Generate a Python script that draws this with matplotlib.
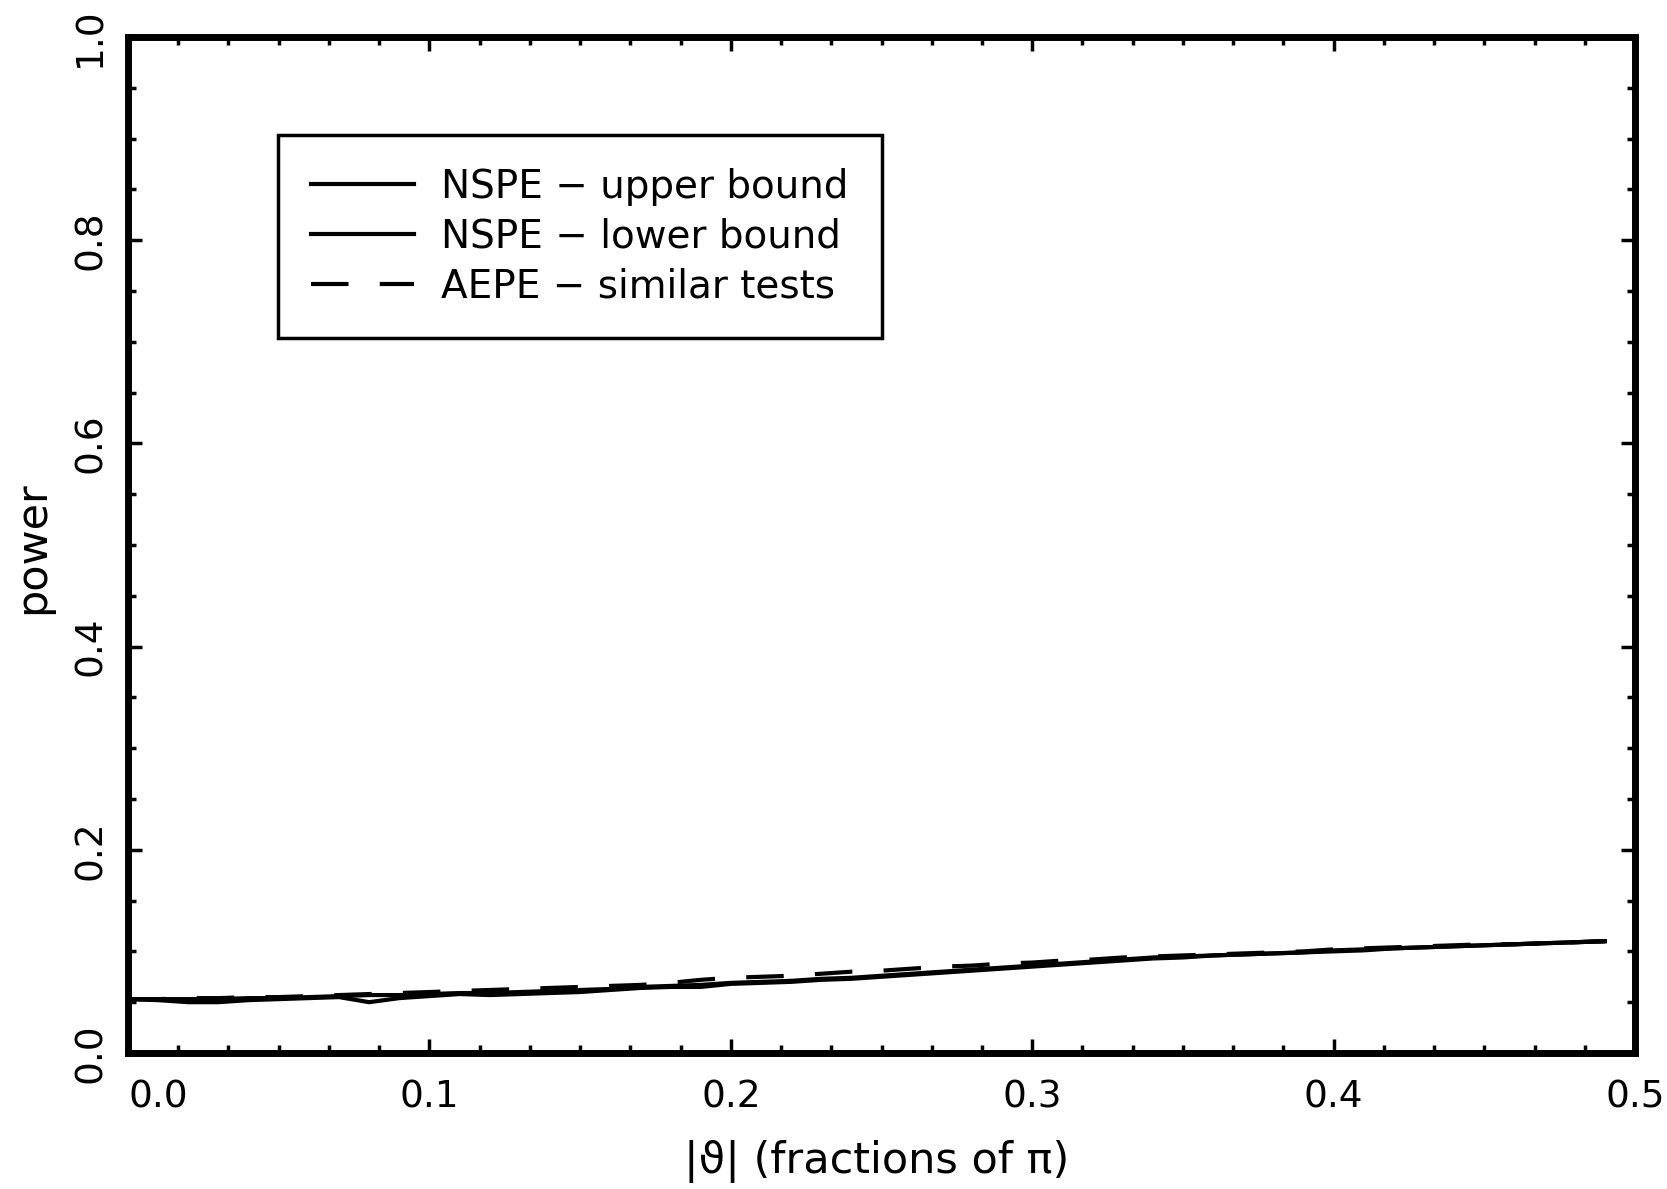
import numpy as np
import matplotlib
matplotlib.use('Agg')
import matplotlib.pyplot as plt
from matplotlib.ticker import MultipleLocator

# |theta| in fractions of pi
theta = [0.00, 0.01, 0.02, 0.03, 0.04, 0.05, 0.06, 0.07, 0.08, 0.09,
         0.10, 0.11, 0.12, 0.13, 0.14, 0.15, 0.16, 0.17, 0.18, 0.19,
         0.20, 0.21, 0.22, 0.23, 0.24, 0.25, 0.26, 0.27, 0.28, 0.29,
         0.30, 0.31, 0.32, 0.33, 0.34, 0.35, 0.36, 0.37, 0.38, 0.39,
         0.40, 0.41, 0.42, 0.43, 0.44, 0.45, 0.46, 0.47, 0.48, 0.49]

nspe_upper = [0.053, 0.053, 0.053, 0.053, 0.054, 0.054, 0.055, 0.056, 0.057, 0.057,
              0.058, 0.059, 0.059, 0.060, 0.061, 0.062, 0.063, 0.065, 0.066, 0.067,
              0.069, 0.070, 0.071, 0.073, 0.074, 0.076, 0.078, 0.080, 0.082, 0.084,
              0.086, 0.088, 0.090, 0.092, 0.094, 0.095, 0.096, 0.097, 0.098, 0.099,
              0.101, 0.102, 0.103, 0.104, 0.105, 0.106, 0.107, 0.108, 0.109, 0.110]

nspe_lower = [0.053, 0.052, 0.050, 0.050, 0.052, 0.053, 0.054, 0.055, 0.050, 0.054,
              0.056, 0.058, 0.057, 0.058, 0.059, 0.060, 0.062, 0.064, 0.065, 0.065,
              0.068, 0.069, 0.070, 0.072, 0.073, 0.075, 0.077, 0.079, 0.081, 0.083,
              0.085, 0.087, 0.089, 0.091, 0.093, 0.094, 0.096, 0.097, 0.098, 0.099,
              0.100, 0.101, 0.103, 0.104, 0.105, 0.106, 0.107, 0.108, 0.109, 0.110]

aepe_similar = [0.053, 0.053, 0.054, 0.054, 0.055, 0.055, 0.056, 0.057, 0.058, 0.059,
                0.060, 0.061, 0.062, 0.063, 0.064, 0.065, 0.066, 0.067, 0.069, 0.072,
                0.074, 0.075, 0.076, 0.078, 0.080, 0.081, 0.083, 0.085, 0.086, 0.088,
                0.089, 0.091, 0.092, 0.094, 0.095, 0.096, 0.097, 0.098, 0.099, 0.100,
                0.102, 0.103, 0.104, 0.105, 0.106, 0.107, 0.107, 0.108, 0.109, 0.110]

labels = ['NSPE − upper bound', 'NSPE − lower bound', 'AEPE − similar tests']

plt.rcParams['font.family'] = ['DejaVu Sans']
tick_fs = 27
leg_fs = 28
lab_fs = 31

fig = plt.figure(figsize=(16.67, 11.89), dpi=100)
ax = fig.add_axes([0.0768, 0.1144, 0.9040, 0.8545])

lw = 3
ax.plot(theta, nspe_upper, '-', color='black', lw=lw, label=labels[0])
ax.plot(theta, nspe_lower, '-', color='black', lw=lw, label=labels[1])
ax.plot(theta, aepe_similar, color='black', lw=lw, linestyle=(0, (9, 7.5)),
        label=labels[2])

ax.set_xlim(0, 0.5)
ax.set_ylim(0, 1.0)
ax.xaxis.set_major_locator(MultipleLocator(0.1))
ax.xaxis.set_minor_locator(MultipleLocator(0.1 / 6))
ax.yaxis.set_major_locator(MultipleLocator(0.2))
ax.yaxis.set_minor_locator(MultipleLocator(0.05))
ax.xaxis.set_major_formatter(plt.FormatStrFormatter('%.1f'))
ax.yaxis.set_major_formatter(plt.FormatStrFormatter('%.1f'))

for s in ax.spines.values():
    s.set_linewidth(5)
ax.tick_params(which='both', direction='in', top=True, right=True, width=2.5)
ax.tick_params(which='major', length=10)
ax.tick_params(which='minor', length=6)
ax.tick_params(axis='y', which='major', labelsize=tick_fs, labelrotation=90)
ax.tick_params(axis='x', which='major', labelsize=tick_fs)
ax.xaxis.set_tick_params(which='major', pad=19)
ax.yaxis.set_tick_params(which='major', pad=14)

ax.set_xlabel('|ϑ| (fractions of π)', fontsize=lab_fs)
ax.set_ylabel('power', fontsize=lab_fs)
ax.xaxis.set_label_coords(0.497, -0.107)
ax.xaxis.label.set_verticalalignment('center')
ax.yaxis.set_label_coords(-0.0637, 0.497)
ax.yaxis.label.set_verticalalignment('center')

leg = ax.legend(loc='upper left', bbox_to_anchor=(0.0995, 0.9035), borderaxespad=0,
                fontsize=leg_fs, frameon=True, fancybox=False, framealpha=1,
                edgecolor='black', handlelength=2.65, handletextpad=0.7,
                labelspacing=0.3, borderpad=0.85)
leg.get_frame().set_linewidth(2.5)

# ticks exist after a draw; then adjust single labels
fig.canvas.draw()
for t in ax.get_yticklabels():
    t.set_verticalalignment('center')
for t in ax.get_xticklabels():
    if t.get_text() == '0.0':
        t.set_horizontalalignment('left')

fig.savefig('out.png', dpi=100)
